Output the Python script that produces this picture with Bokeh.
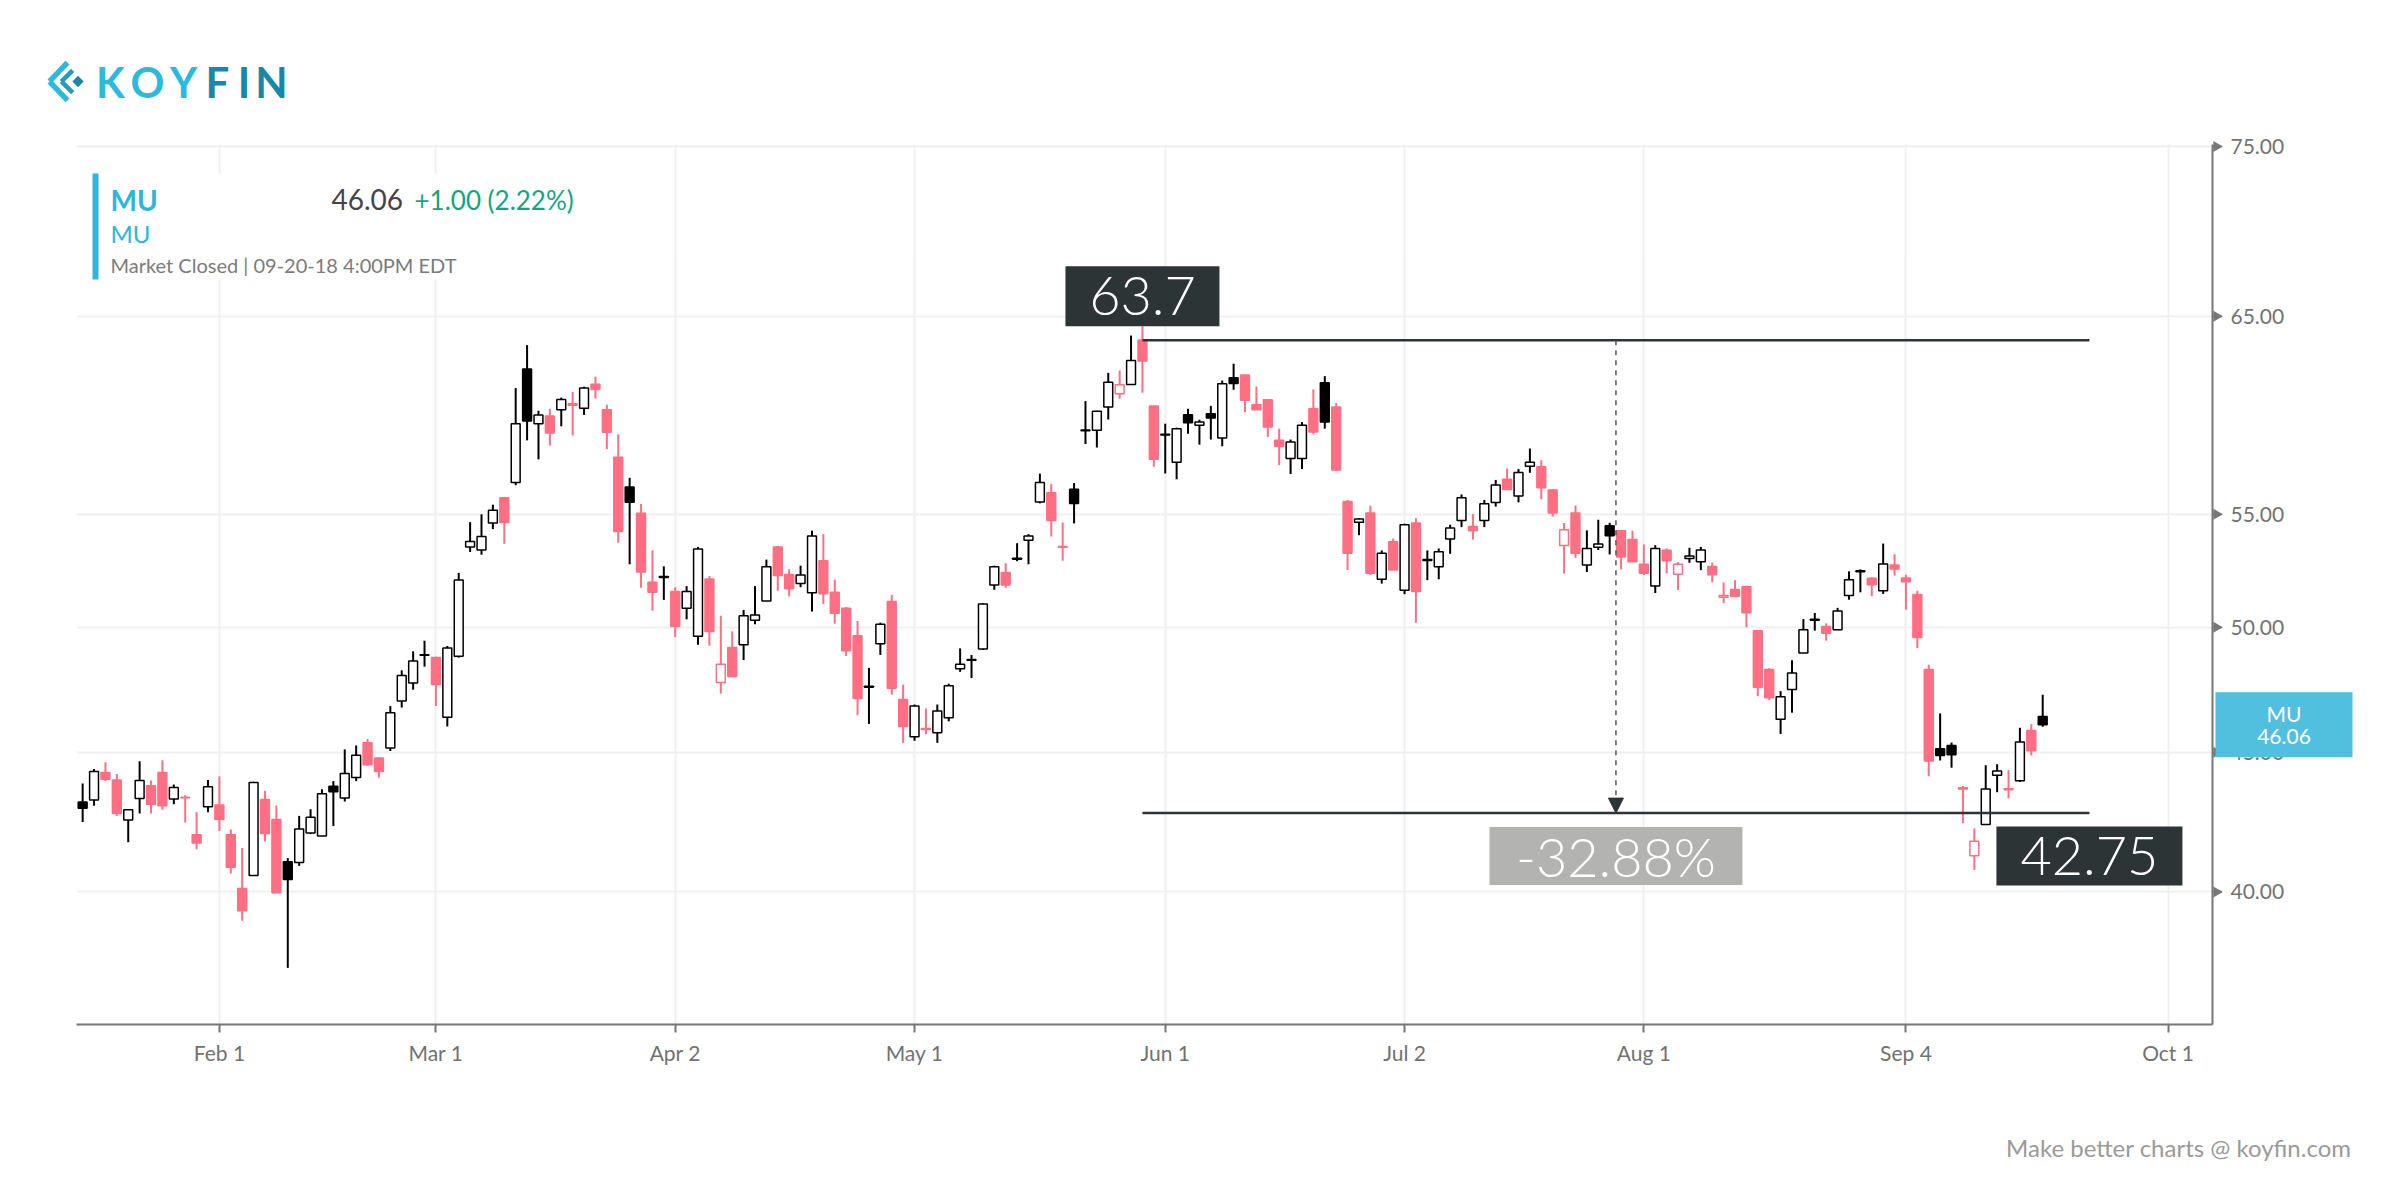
import math
import pandas as pd
from bokeh.plotting import figure
from bokeh.models import (Range1d, FixedTicker, PrintfTickFormatter, Arrow, NormalHead,
                          ColumnDataSource)
from bokeh.core.properties import value
from bokeh.embed import file_html
from bokeh.resources import INLINE

# ---------------- data ----------------
TICKER = "MU"
start_date, end_date = "2018-01-16", "2018-09-20"
holidays = ["2018-02-19", "2018-03-30", "2018-05-28", "2018-07-04", "2018-09-03"]

open_ = [43.15, 43.23, 44.24, 43.96, 42.50, 43.28, 43.75, 44.24, 43.26, 43.33,
         41.98, 42.98, 43.04, 41.98, 40.12, 40.56, 43.24, 42.52, 41.03, 41.01,
         42.04, 41.93, 43.73, 43.30, 44.05, 45.36, 44.78, 45.16, 46.99, 47.71,
         48.86, 48.74, 46.35, 48.80, 53.51, 53.37, 54.60, 55.77, 56.50, 62.17,
         59.37, 59.76, 60.07, 60.38, 60.15, 61.38, 60.07, 57.71, 56.28, 55.05,
         51.94, 52.19, 51.54, 50.81, 49.63, 52.08, 47.73, 49.16, 49.27, 50.30,
         51.12, 53.51, 52.28, 51.88, 51.48, 52.89, 51.50, 50.81, 49.65, 47.58,
         49.31, 51.10, 47.05, 45.59, 45.91, 45.75, 46.33, 48.28, 48.66, 49.10,
         51.82, 52.37, 53.00, 53.81, 55.58, 56.01, 53.53, 56.18, 59.06, 59.04,
         60.21, 60.89, 61.37, 63.71, 60.26, 58.84, 57.47, 59.82, 59.29, 59.87,
         58.66, 61.71, 61.86, 60.33, 60.58, 58.54, 57.65, 57.65, 60.12, 61.45,
         60.21, 55.60, 54.63, 55.06, 52.07, 53.74, 51.59, 54.60, 52.94, 52.62,
         53.87, 54.72, 54.44, 54.71, 55.55, 56.65, 55.86, 57.28, 57.25, 56.14,
         53.57, 55.06, 52.70, 53.49, 54.47, 54.24, 53.84, 52.73, 51.78, 53.36,
         52.29, 52.99, 52.84, 52.63, 51.29, 51.62, 51.74, 49.86, 48.25, 46.27,
         47.45, 48.93, 50.34, 50.04, 49.90, 51.36, 52.44, 52.11, 51.57, 52.70,
         52.12, 51.40, 48.25, 45.13, 45.26, 43.67, 41.24, 42.34, 44.14, 43.64,
         43.93, 45.83, 46.38]
high = [43.83, 44.37, 44.62, 44.18, 42.87, 44.66, 43.94, 44.70, 43.79, 43.40,
        42.78, 43.96, 44.09, 42.16, 41.51, 43.90, 43.56, 43.02, 41.16, 42.65,
        42.89, 43.62, 43.92, 45.11, 45.26, 45.50, 44.81, 46.79, 48.22, 49.00,
        49.44, 48.78, 49.22, 52.35, 54.64, 55.00, 55.45, 55.82, 61.18, 63.44,
        60.02, 60.12, 60.69, 60.98, 61.25, 61.77, 60.33, 58.84, 56.72, 55.48,
        53.35, 52.64, 51.72, 51.77, 53.51, 52.21, 50.49, 49.83, 50.74, 51.77,
        52.94, 53.56, 52.51, 52.67, 54.25, 54.09, 52.05, 50.87, 50.27, 48.32,
        50.20, 51.39, 47.64, 46.85, 46.69, 46.85, 47.68, 49.12, 48.85, 51.03,
        52.67, 52.78, 53.68, 54.09, 56.92, 56.43, 54.62, 56.47, 60.51, 60.00,
        61.97, 62.09, 63.95, 64.45, 60.26, 59.37, 59.17, 60.12, 59.57, 60.27,
        61.57, 62.45, 61.86, 61.26, 60.58, 59.12, 58.58, 59.45, 61.11, 61.80,
        60.41, 55.67, 54.82, 55.40, 53.35, 53.89, 54.57, 54.82, 53.35, 53.44,
        54.52, 55.93, 55.01, 55.67, 56.62, 57.17, 57.14, 58.14, 57.57, 56.19,
        54.60, 55.41, 54.26, 54.75, 54.61, 54.24, 54.24, 53.62, 53.59, 53.44,
        52.83, 53.47, 53.51, 52.81, 51.93, 52.03, 51.79, 49.89, 48.31, 47.38,
        48.63, 50.35, 50.61, 50.17, 50.83, 52.42, 52.51, 52.15, 53.66, 53.18,
        52.27, 51.57, 48.45, 46.50, 45.37, 43.74, 42.20, 44.51, 44.55, 44.33,
        45.94, 46.08, 47.24]
low = [42.43, 43.02, 43.92, 42.65, 41.71, 42.74, 42.74, 42.87, 43.07, 42.41,
       41.47, 42.78, 42.11, 40.63, 39.04, 40.56, 41.74, 39.97, 37.52, 40.89,
       42.00, 41.93, 42.29, 43.17, 43.92, 44.49, 44.05, 45.05, 46.73, 47.44,
       48.37, 46.79, 45.99, 48.74, 53.28, 53.16, 54.32, 53.65, 56.37, 58.54,
       57.61, 58.28, 59.24, 58.79, 59.81, 60.64, 58.11, 53.70, 52.73, 51.70,
       50.71, 51.17, 49.59, 50.34, 49.27, 49.23, 47.28, 47.97, 48.64, 50.13,
       51.12, 51.57, 51.32, 51.72, 50.67, 50.99, 50.16, 48.81, 46.43, 46.09,
       48.85, 47.24, 45.36, 45.44, 45.69, 45.36, 46.19, 48.16, 47.91, 49.06,
       51.61, 51.70, 52.87, 52.73, 55.51, 53.98, 52.89, 54.58, 58.36, 58.19,
       59.58, 60.63, 61.37, 60.94, 57.25, 56.93, 56.65, 58.87, 58.33, 58.58,
       58.25, 61.09, 59.95, 60.07, 58.71, 57.33, 56.90, 57.14, 58.84, 59.12,
       57.06, 52.48, 54.04, 52.25, 51.88, 52.48, 51.42, 50.19, 52.03, 52.07,
       53.20, 54.41, 53.84, 54.41, 55.36, 56.14, 55.56, 56.96, 55.70, 54.90,
       52.32, 53.02, 52.39, 53.37, 53.17, 52.51, 52.84, 52.25, 51.47, 52.33,
       51.60, 52.80, 52.47, 51.94, 51.03, 51.29, 50.00, 47.18, 47.03, 45.70,
       46.53, 48.93, 49.86, 49.44, 49.88, 51.18, 51.50, 51.33, 51.43, 52.23,
       50.75, 49.13, 44.10, 44.69, 44.42, 42.39, 40.75, 42.34, 43.51, 43.29,
       43.89, 44.88, 45.98]
close = [42.93, 44.28, 43.99, 42.74, 42.87, 43.94, 43.07, 43.02, 43.68, 43.31,
         41.69, 43.71, 42.52, 40.84, 39.37, 43.87, 42.02, 39.97, 40.42, 42.18,
         42.60, 43.45, 43.53, 44.20, 44.89, 44.53, 44.28, 46.53, 48.01, 48.60,
         48.84, 47.65, 49.14, 52.04, 53.76, 53.98, 55.19, 54.62, 59.37, 59.50,
         59.81, 58.91, 60.59, 60.30, 61.18, 61.11, 58.94, 54.21, 55.56, 52.39,
         51.50, 52.15, 50.04, 51.54, 53.42, 49.83, 48.47, 47.97, 50.49, 50.52,
         52.62, 52.23, 51.66, 52.26, 54.00, 51.44, 50.60, 49.02, 47.09, 47.54,
         50.13, 47.50, 45.99, 46.79, 45.87, 46.59, 47.60, 48.47, 48.63, 50.99,
         52.62, 51.82, 52.96, 54.00, 56.50, 54.72, 53.49, 55.51, 59.02, 59.99,
         61.48, 61.35, 62.62, 62.59, 57.62, 58.80, 59.12, 59.42, 59.45, 59.65,
         61.40, 61.42, 60.55, 60.07, 59.20, 58.25, 58.46, 59.29, 58.96, 59.45,
         57.09, 53.22, 54.78, 52.33, 53.22, 52.48, 54.52, 51.53, 52.90, 53.29,
         54.37, 55.78, 54.24, 55.49, 56.38, 56.17, 56.98, 57.47, 56.25, 55.06,
         54.29, 53.22, 53.44, 53.64, 54.02, 53.06, 52.84, 52.33, 53.44, 52.89,
         52.73, 53.10, 53.37, 52.27, 51.36, 51.33, 50.62, 47.54, 47.12, 47.16,
         48.11, 49.90, 50.30, 49.75, 50.69, 52.05, 52.40, 51.83, 52.74, 52.52,
         51.96, 49.57, 44.67, 44.88, 44.91, 43.63, 41.75, 43.63, 44.30, 43.60,
         45.39, 45.06, 46.06]

last_close = 46.06
change_abs = 1.00
change_pct = 2.22
peak_level = 63.7
trough_level = 42.75
drop_pct = -32.88
peak_date = "2018-05-30"
measure_end = 176.1
y_ticks = [40, 45, 50, 55, 65, 75]

# ---------------- dates / ticks ----------------
dates = [d for d in pd.bdate_range(start_date, end_date) if d.strftime("%Y-%m-%d") not in holidays]
n = min(len(dates), len(close))
xs = list(range(n))
tick_pos, tick_lab = [], []
for m in range(2, 10):
    idx = next(i for i, d in enumerate(dates) if d.month == m)
    tick_pos.append(idx)
    tick_lab.append(f"{dates[idx]:%b} {dates[idx].day}")
oct1 = pd.Timestamp("2018-10-01")
tick_pos.append(len(dates) - 1 + (oct1 - dates[-1]).days)
tick_lab.append("Oct 1")
ann_start = next(i for i, d in enumerate(dates) if d.strftime("%Y-%m-%d") == peak_date)

# ---------------- geometry helpers ----------------
W, H = 2400, 1200
FL, FR, FT, FB = 76, 2212, 144, 1024
X0, X1 = -0.54, 186.9
Y0, Y1 = 35.77, 75.13
LY0, LY1 = math.log(Y0), math.log(Y1)


def x_at(px):
    return X0 + (px - FL) * (X1 - X0) / (FR - FL)


def y_at(py):
    return math.exp(LY1 - (py - FT) * (LY1 - LY0) / (FB - FT))


def py_of_y(y):
    return FT + (LY1 - math.log(y)) * (FB - FT) / (LY1 - LY0)


UP = "#000000"
DOWN = "#ff6f83"
DARK = "#2d3436"
FONT = "Lato"
LIGHT_FONT = "Lato Light, Lato"

p = figure(width=W, height=H, x_range=Range1d(X0, X1), y_range=Range1d(Y0, Y1),
           y_axis_type="log", y_axis_location="right", output_backend="svg",
           toolbar_location=None, min_border_left=FL, min_border_right=W - FR,
           min_border_top=FT, min_border_bottom=H - FB, outline_line_color=None,
           background_fill_color="white", border_fill_color="white")

# axes
p.xaxis.ticker = FixedTicker(ticks=tick_pos)
p.xaxis.major_label_overrides = {pos: lab for pos, lab in zip(tick_pos, tick_lab)}
p.yaxis.ticker = FixedTicker(ticks=y_ticks)
p.yaxis.formatter = PrintfTickFormatter(format="%.2f")
for ax in (p.xaxis[0], p.yaxis[0]):
    ax.axis_line_color = "#777777"
    ax.axis_line_width = 2
    ax.major_tick_line_color = "#777777"
    ax.major_tick_line_width = 2
    ax.major_tick_in = 0
    ax.minor_tick_line_color = None
    ax.major_label_text_font = FONT
    ax.major_label_text_font_size = "21px"
    ax.major_label_text_color = "#727272"
p.xaxis.major_tick_out = 8
p.xaxis.major_label_standoff = 7
p.yaxis.major_tick_out = 9
p.yaxis.major_label_standoff = 9
p.xgrid.grid_line_color = "#f0f0f0"
p.ygrid.grid_line_color = "#f0f0f0"
p.xgrid.grid_line_width = 2
p.ygrid.grid_line_width = 2

# ---------------- candles ----------------
up = [True] + [close[i] >= close[i - 1] for i in range(1, n)]
col = [UP if u else DOWN for u in up]
fill = [("white" if close[i] > open_[i] else col[i]) for i in range(n)]
src = ColumnDataSource(dict(
    x=xs, o=open_[:n], h=high[:n], l=low[:n], c=close[:n],
    top=[max(open_[i], close[i]) for i in range(n)],
    bot=[min(open_[i], close[i]) for i in range(n)],
    col=col, fill=fill))
p.segment(x0="x", y0="h", x1="x", y1="l", line_color="col", line_width=2, source=src)
p.vbar(x="x", width=0.78, top="top", bottom="bot", fill_color="fill", line_color="col",
       line_width=1.5, source=src)

# ---------------- measurement annotation ----------------
mid = (ann_start + measure_end) / 2
p.segment(x0=[ann_start, ann_start], y0=[peak_level, trough_level],
          x1=[measure_end, measure_end], y1=[peak_level, trough_level],
          line_color=DARK, line_width=2.5)
p.add_layout(Arrow(end=NormalHead(size=15, fill_color=DARK, line_color=DARK),
                   x_start=mid, y_start=peak_level, x_end=mid, y_end=trough_level,
                   line_color="#555555", line_width=1.5, line_dash="5 5"))

box_x = [ann_start, mid, measure_end]
box_y = [y_at(py_of_y(peak_level) - 44), y_at(py_of_y(trough_level) + 43),
         y_at(py_of_y(trough_level) + 43)]
box_w = [154, 253, 186]
box_h = [60, 58, 59]
box_c = [DARK, "#b3b3b2", DARK]
p.rect(x=box_x, y=box_y, width=box_w, height=box_h, width_units="screen",
       height_units="screen", fill_color=box_c, line_color=None)
p.text(x=box_x, y=box_y,
       text=[f"{peak_level}", f"{drop_pct:.2f}%", f"{trough_level:.2f}"],
       text_align="center", text_baseline="middle", text_font=value(LIGHT_FONT),
       text_font_size="54px", text_color="white")

# ---------------- info box ----------------
p.rect(x=[x_at(337.5)], y=[y_at(226)], width=[485], height=[106], width_units="screen",
       height_units="screen", fill_color="white", line_color=None)
p.rect(x=[x_at(95)], y=[y_at(226)], width=[6], height=[106], width_units="screen",
       height_units="screen", fill_color="#31b5d9", line_color=None)


def txt(text, px, py, size, color, style="normal", align="left", font=FONT):
    """text whose visual middle sits at screen row py"""
    p.text(x=[x_at(px)], y=[y_at(py)], text=[text], text_font=value(font),
           text_font_size=f"{size}px", text_color=color, text_font_style=style,
           text_align=align, text_baseline="middle", level="overlay")


txt(TICKER, 110, 199, 28, "#2eb5da", "bold")
txt(TICKER, 110, 233, 24, "#2eb5da")
txt("Market Closed | 09-20-18 4:00PM EDT", 110, 264, 20, "#7b7b7b")
txt(f"{last_close:.2f}", 331, 199, 28, "#454545")
txt(f"+{change_abs:.2f} ({change_pct:.2f}%)", 414, 199, 26, "#13a57f")

# ---------------- logo ----------------
for ch, px, c in zip("KOYFIN", [110, 147, 183, 217, 243.5, 271],
                     ["#2cb9dc", "#2cb9dc", "#2cb9dc", "#1888a9", "#1888a9", "#1888a9"]):
    txt(ch, px, 81, 42, c, "bold", align="center")
bar_px = [58, 58, 66.5, 66.5, 77.5]
bar_py = [71.5, 90.5, 75.5, 86.5, 81]
bar_len = [26, 26, 16, 16, 8]
bar_thk = [5.5, 5.5, 4.5, 4.5, 8]
bar_ang = [0.81, -0.81, 0.785, -0.785, 0.785]
p.rect(x=[x_at(v) for v in bar_px], y=[y_at(v) for v in bar_py], width=bar_len,
       height=bar_thk, angle=bar_ang, width_units="screen", height_units="screen",
       fill_color=["#2cb9dc", "#2cb9dc", "#1f9cc0", "#1f9cc0", "#1888a9"],
       line_color=None, level="overlay")

# y axis triangle markers
p.scatter(x=[x_at(FR + 4)] * len(y_ticks), y=y_ticks, marker="triangle", size=11,
          angle=-math.pi / 2, fill_color="#777777", line_color=None, level="overlay")

# last price tag on the axis
tag_py = py_of_y(last_close)
p.rect(x=[x_at(2283.5)], y=[last_close], width=[137], height=[65], width_units="screen",
       height_units="screen", fill_color="#51c0de", line_color=None, level="overlay")
txt(TICKER, 2283.5, tag_py - 11, 21, "white", align="center")
txt(f"{last_close:.2f}", 2283.5, tag_py + 12, 21, "white", align="center")

# footer
txt("Make better charts @ koyfin.com", 2351, 1147, 24, "#9a9a9a", align="right")

open("out.html", "w").write(file_html(p, INLINE))
